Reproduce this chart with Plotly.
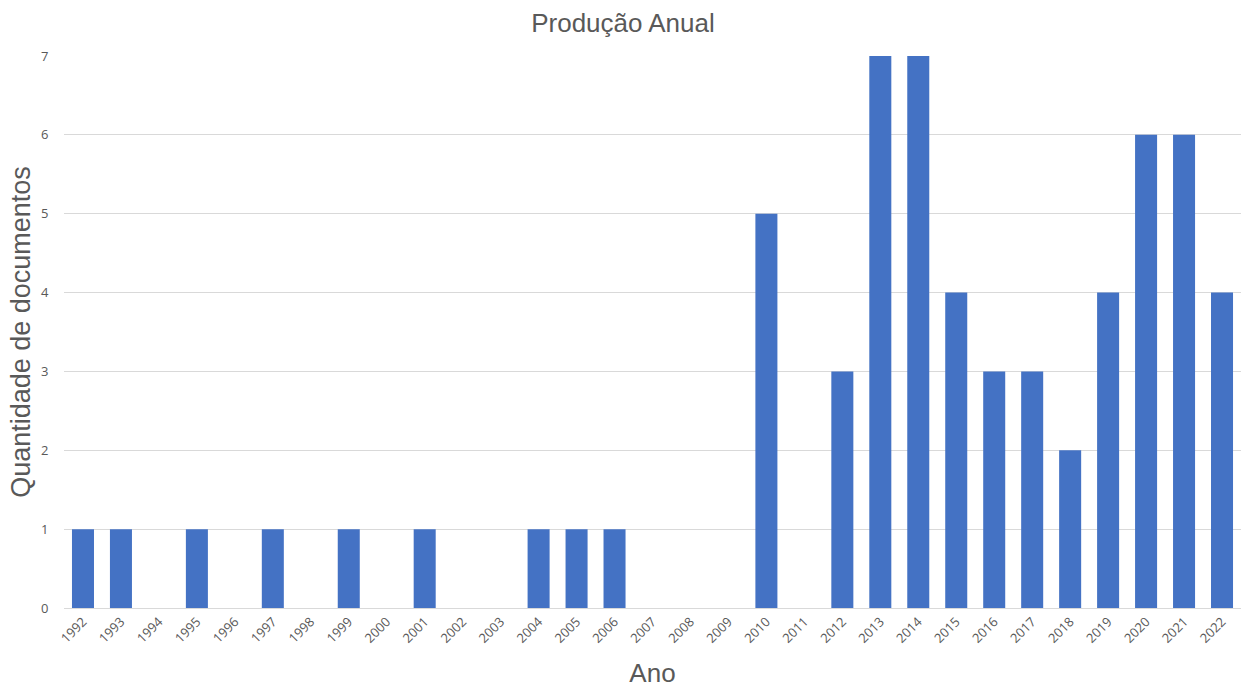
import plotly.graph_objects as go

# Annual document counts
anos = [str(a) for a in range(1992, 2023)]
quantidade = [1, 1, 0, 1, 0, 1, 0, 1, 0, 1, 0, 0, 1, 1, 1, 0, 0, 0,
              5, 0, 3, 7, 7, 4, 3, 3, 2, 4, 6, 6, 4]
y_ticks = [0, 1, 2, 3, 4, 5, 6, 7]

fig = go.Figure(
    go.Bar(
        x=anos,
        y=quantidade,
        marker=dict(color="#4472C4", line=dict(width=0)),
    )
)

fig.update_layout(
    width=1241,
    height=688,
    margin=dict(l=64, r=0, t=56, b=80),
    paper_bgcolor="white",
    plot_bgcolor="white",
    bargap=0.42,
    showlegend=False,
    title=dict(
        text="Produção Anual",
        x=0.502,
        xref="container",
        xanchor="center",
        y=0.967,
        yanchor="middle",
        font=dict(family="Liberation Sans, Arial", size=26, color="#595959"),
    ),
    xaxis=dict(
        type="category",
        tickangle=-45,
        tickfont=dict(family="Open Sans, Calibri", size=13, color="#595959"),
        showgrid=False,
        showline=True,
        linecolor="#D9D9D9",
        linewidth=1,
        ticks="",
        title=dict(
            text="Ano",
            font=dict(family="Liberation Sans, Arial", size=26, color="#595959"),
            standoff=18,
        ),
    ),
    yaxis=dict(
        range=[0, 7],
        tickvals=y_ticks,
        tickfont=dict(family="Open Sans, Calibri", size=13, color="#595959"),
        showgrid=True,
        gridcolor="#D9D9D9",
        gridwidth=1,
        zeroline=False,
        ticks="outside",
        ticklen=12,
        tickcolor="rgba(0,0,0,0)",
        title=dict(
            text="Quantidade de documentos",
            font=dict(family="Liberation Sans, Arial", size=27, color="#595959"),
            standoff=2,
        ),
    ),
)

fig.write_html("out.html")
